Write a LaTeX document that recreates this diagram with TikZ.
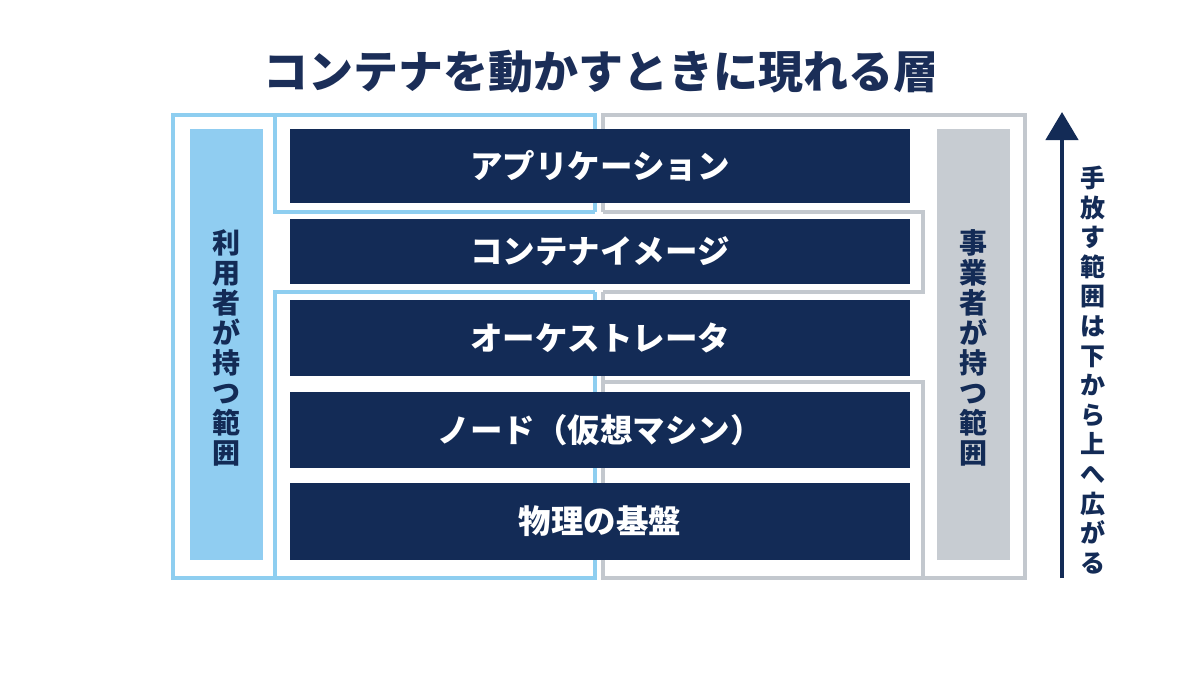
\documentclass[tikz,border=0pt]{standalone}
\usepackage{fontspec}
\setmainfont{Noto Sans CJK JP}
\usetikzlibrary{arrows.meta}
\definecolor{navy}{HTML}{132B56}
\definecolor{titlenavy}{HTML}{1B2E58}
\definecolor{blueline}{HTML}{8ECEF0}
\definecolor{bluefill}{HTML}{90CDF1}
\definecolor{grayline}{HTML}{C3C8CE}
\definecolor{grayfill}{HTML}{C7CCD2}
\tikzset{
  layerbox/.style={fill=navy, draw=none, minimum width=620pt, text=white,
    font=\fontsize{32.5}{32.5}\selectfont\bfseries, inner sep=0pt},
  bframe/.style={draw=blueline, line width=3.6pt, line join=miter},
  gframe/.style={draw=grayline, line width=3.2pt, line join=miter},
  vtext/.style={align=center, text=navy, inner sep=0pt,
    font=\fontsize{28}{30}\selectfont\bfseries},
}
\begin{document}
\begin{tikzpicture}[x=1pt,y=-1pt]
\useasboundingbox[fill=white] (0,0) rectangle (1200,675);

% title
\node[text=titlenavy, font=\fontsize{45}{45}\selectfont\bfseries, inner sep=0pt]
  (title) at (601,72) {コンテナを動かすときに現れる層};

% blue frame (user)
\draw[bframe] (595,212) -- (595,115) -- (173,115) -- (173,578) -- (595,578) -- (595,292);
\draw[bframe] (275,115) -- (275,212) -- (595,212);
\draw[bframe] (595,292) -- (275,292) -- (275,578);

% gray frame (provider)
\draw[gframe] (603,212) -- (603,115) -- (1025,115) -- (1025,578) -- (603,578) -- (603,292);
\draw[gframe] (603,212) -- (923,212) -- (923,292) -- (603,292);
\draw[gframe] (603,382) -- (923,382) -- (923,578);

% side columns
\node[fill=bluefill, minimum width=73pt, minimum height=431pt, inner sep=0pt] (ucol) at (226.5,344.5) {};
\node[fill=grayfill, minimum width=73pt, minimum height=431pt, inner sep=0pt] (pcol) at (973.5,344.5) {};
\node[vtext] (utext) at (226,348) {利\\用\\者\\が\\持\\つ\\範\\囲};
\node[vtext] (ptext) at (973,348) {事\\業\\者\\が\\持\\つ\\範\\囲};

% layers
\node[layerbox, minimum height=74pt] (app) at (600,166) {アプリケーション};
\node[layerbox, minimum height=65pt] (img) at (600,251.5) {コンテナイメージ};
\node[layerbox, minimum height=76pt] (orch) at (600,338) {オーケストレータ};
\node[layerbox, minimum height=76pt] (vm) at (600,430) {ノード（仮想マシン）};
\node[layerbox, minimum height=77pt] (phys) at (600,521.5) {物理の基盤};

% arrow
\coordinate (arrS) at (1062,578);
\coordinate (arrE) at (1062,112);
\draw[navy, line width=4.5pt, -{Triangle[width=32pt,length=28pt]}] (arrS) -- (arrE);
\node[align=center, text=navy, inner sep=0pt, font=\fontsize{25}{29.6}\selectfont\bfseries]
  (atext) at (1093,370) {手\\放\\す\\範\\囲\\は\\下\\か\\ら\\上\\へ\\広\\が\\る};
\end{tikzpicture}
\end{document}
